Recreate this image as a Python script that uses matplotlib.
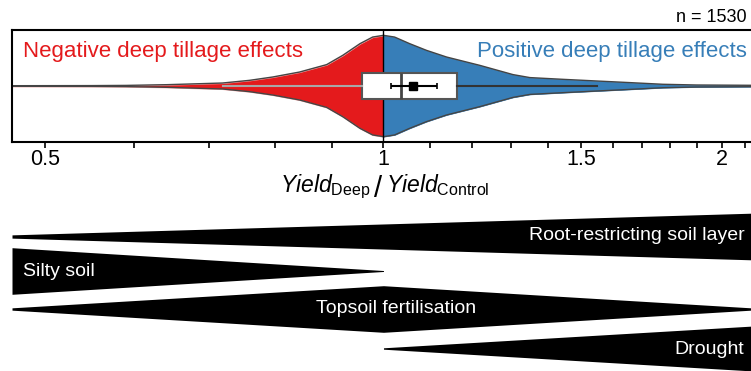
import numpy as np
import matplotlib
matplotlib.use('Agg')
import matplotlib.pyplot as plt
from matplotlib.ticker import FixedLocator, FixedFormatter, NullFormatter

plt.rcParams['font.family'] = ['Liberation Sans', 'DejaVu Sans']
plt.rcParams['mathtext.fontset'] = 'custom'
plt.rcParams['mathtext.rm'] = 'Liberation Sans'
plt.rcParams['mathtext.it'] = 'Liberation Sans:italic'

# violin outline: yield ratio vs relative half-width
ratio = np.array([0.467, 0.55, 0.59, 0.641, 0.719, 0.76, 0.797, 0.842, 0.89, 0.92,
                  0.953, 0.978, 1.0, 1.023, 1.055, 1.092, 1.138, 1.218, 1.304, 1.35,
                  1.444, 1.548, 1.657, 1.773, 1.9, 2.124])
density = np.array([0.006, 0.008, 0.012, 0.026, 0.059, 0.112, 0.178, 0.276, 0.422, 0.606,
                    0.836, 0.966, 1.0, 0.966, 0.836, 0.704, 0.572, 0.408, 0.225, 0.166,
                    0.132, 0.099, 0.067, 0.034, 0.02, 0.014])

# box plot summary
q1, med, q3 = 0.957, 1.0376, 1.1615
whis_lo, whis_hi = 0.719, 1.549
mean_val, ci_lo, ci_hi = 1.063, 1.015, 1.116
n_obs = 1530

major_ticks = [0.5, 1, 1.5, 2]
major_labels = ['0.5', '1', '1.5', '2']
minor_ticks = [0.6, 0.7, 0.8, 0.9, 1.1, 1.2, 1.3, 1.4, 1.6, 1.7, 1.8, 1.9, 2.1]
x_min, x_max = 0.467, 2.124

# factor wedges: ratio positions and relative strength
factors = ['Root-restricting soil layer', 'Silty soil', 'Topsoil fertilisation', 'Drought']
root_x = [0.467, 2.124]
root_w = [0.07, 1.0]
silty_x = [0.467, 1.0]
silty_w = [1.0, 0.02]
topsoil_x = [0.467, 1.0, 2.124]
topsoil_w = [0.05, 1.0, 0.05]
drought_x = [1.0, 2.124]
drought_w = [0.03, 0.96]

red = '#e41a1c'
blue = '#377eb8'

fig = plt.figure(figsize=(7.51, 3.71), dpi=100)
W, H = 751, 371

ax = fig.add_axes([12 / W, 1 - 142 / H, 1 - 12 / W, 112 / H])
ax.set_xscale('log')
ax.set_xlim(x_min, x_max)
ax.set_ylim(-1.105, 1.105)

left = ratio <= 1
right = ratio >= 1
ax.fill_between(ratio[left], -density[left], density[left], facecolor=red,
                edgecolor='#f4a6a6', linewidth=0.8, zorder=1)
ax.fill_between(ratio[right], -density[right], density[right], facecolor=blue,
                edgecolor=blue, linewidth=0.5, zorder=1)
ax.plot(ratio, density, color='#444444', lw=1, zorder=2)
ax.plot(ratio, -density, color='#444444', lw=1, zorder=2)

ax.axvline(1, color='black', lw=1, zorder=3)

stats = [dict(med=med, q1=q1, q3=q3, whislo=whis_lo, whishi=whis_hi, fliers=[])]
bp = ax.bxp(stats, positions=[0], widths=0.51, orientation='horizontal',
            showcaps=False, showfliers=False, patch_artist=True,
            boxprops=dict(facecolor='white', edgecolor='#555555', linewidth=1.5),
            medianprops=dict(color='#444444', linewidth=2),
            whiskerprops=dict(color='#333333', linewidth=1.5), zorder=4)
bp['whiskers'][0].set_color('#a8a8a8')

ax.errorbar(mean_val, 0, xerr=[[mean_val - ci_lo], [ci_hi - mean_val]], fmt='s',
            color='black', ms=6, capsize=2.5, elinewidth=1.5, capthick=1.2, zorder=6)

ax.xaxis.set_major_locator(FixedLocator(major_ticks))
ax.xaxis.set_major_formatter(FixedFormatter(major_labels))
ax.xaxis.set_minor_locator(FixedLocator(minor_ticks))
ax.xaxis.set_minor_formatter(NullFormatter())
ax.tick_params(axis='x', which='both', length=4, width=1.2, direction='out',
               labelsize=15.5, pad=1)
ax.set_yticks([])
for s in ['top', 'bottom', 'left']:
    ax.spines[s].set_linewidth(1.5)
ax.spines['right'].set_visible(False)

ax.text(0.0145, 0.762, 'Negative deep tillage effects', color=red, fontsize=16,
        ha='left', va='baseline', transform=ax.transAxes)
ax.text(0.994, 0.762, 'Positive deep tillage effects', color=blue, fontsize=16,
        ha='right', va='baseline', transform=ax.transAxes)
ax.text(0.994, 1.074, f'n = {n_obs}', fontsize=13, ha='right', va='baseline',
        transform=ax.transAxes)

# x label in three parts so the slash can be taller
fig.text(370 / W, 1 - 192 / H, r'$\mathit{Yield}_{\mathrm{Deep}}$', fontsize=16.5,
         ha='right', va='baseline')
fig.text(378 / W, 1 - 197 / H, '/', fontsize=21, ha='center', va='baseline')
fig.text(386 / W, 1 - 192 / H, r'$\mathit{Yield}_{\mathrm{Control}}$', fontsize=16.5,
         ha='left', va='baseline')

# lower panel with factor wedges
ax2 = fig.add_axes([12 / W, 0, 1 - 12 / W, 166 / H])
ax2.set_xscale('log')
ax2.set_xlim(x_min, x_max)
ax2.set_ylim(371, 205)
ax2.axis('off')

row_y = [236.5, 271, 309, 348.5]
half = 23.3
wedges = [(root_x, root_w), (silty_x, silty_w), (topsoil_x, topsoil_w), (drought_x, drought_w)]
for (wx, ww), yc in zip(wedges, row_y):
    wx = np.array(wx)
    ww = np.array(ww) * half
    ax2.fill_between(wx, yc - ww, yc + ww, color='black', lw=0, clip_on=False)

ax2.text(745 / W, 1 - 236 / H, factors[0], color='white', fontsize=14, ha='right',
         va='center', transform=fig.transFigure)
ax2.text(22.7 / W, 1 - 271 / H, factors[1], color='white', fontsize=14, ha='left',
         va='center', transform=fig.transFigure)
ax2.text(395.7 / W, 1 - 308.5 / H, factors[2], color='white', fontsize=14, ha='center',
         va='center', transform=fig.transFigure)
ax2.text(744.3 / W, 1 - 349 / H, factors[3], color='white', fontsize=14, ha='right',
         va='center', transform=fig.transFigure)

fig.savefig('out.png', dpi=100)
